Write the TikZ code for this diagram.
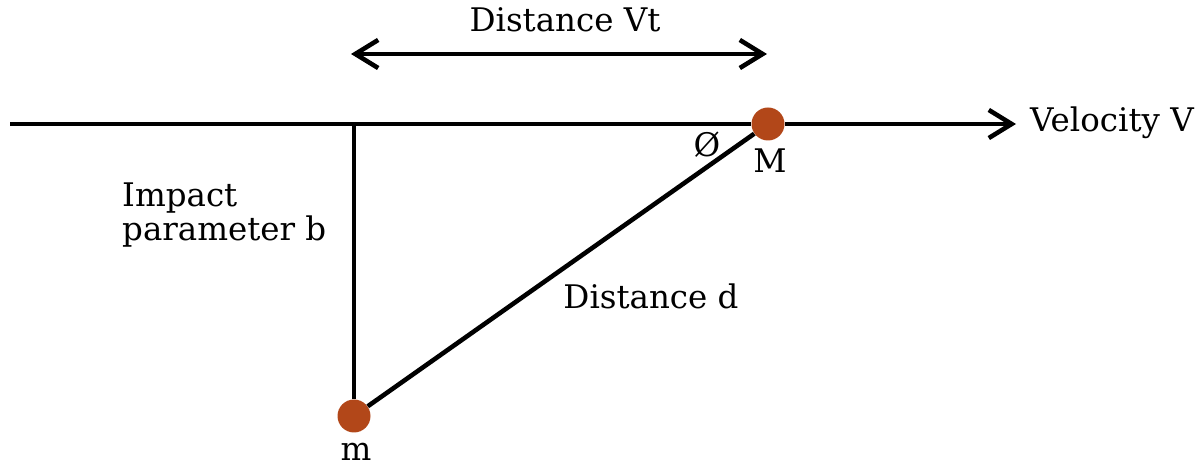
\documentclass[tikz,border=0pt]{standalone}
\usepackage{fontspec}
\setmainfont{DejaVu Serif}
\usetikzlibrary{positioning,calc,arrows.meta}
\definecolor{rustorange}{rgb}{0.70, 0.28, 0.10}

\begin{document}
\begin{tikzpicture}[x=0.02cm,y=-0.02cm,font=\fontsize{18.5}{19.5}\selectfont]
	\useasboundingbox (0,0) rectangle (1200,475);
	\tikzset{mass/.style={circle,fill=rustorange,minimum size=0.66cm,inner sep=0pt},
		barb/.style={-{Straight Barb[length=13pt,width=16pt,line width=2.6pt]}},
		thickline/.style={black,line width=2.6pt}}
	
	% masses
	\node[mass] (M) at (768,124) {};
	\node[mass] (m) at (354,416) {};
	
	\coordinate (start) at (10,124);
	\coordinate (tip) at (1016,124);
	\coordinate (foot) at (354,124);
	\coordinate (vtleft) at (351,54);
	\coordinate (vtright) at (767,54);
	
	% path of M
	\draw[thickline] (start) -- (M);
	\draw[thickline,barb] (M) -- (tip);
	\draw[thickline] (foot) -- (m);
	\draw[thickline] (M) -- (m);
	
	\draw[thickline,{Straight Barb[length=13pt,width=16pt,line width=2.6pt]}-{Straight Barb[length=13pt,width=16pt,line width=2.6pt]}] (vtleft) -- (vtright);
	
	% labels
	\node (vt) at (565,20) {Distance Vt};
	\node[anchor=west] (vel) at (1024,123) {Velocity V};
	\node (phi) at (707,145) {Ø};
	\node (Mlabel) at (770,161) {M};
	\node (mlabel) at (356,452) {m};
	\node[anchor=west,align=left] (impact) at (116,215) {Impact\\parameter b};
	\node (dist) at (651,296) {Distance d};
\end{tikzpicture}
\end{document}
